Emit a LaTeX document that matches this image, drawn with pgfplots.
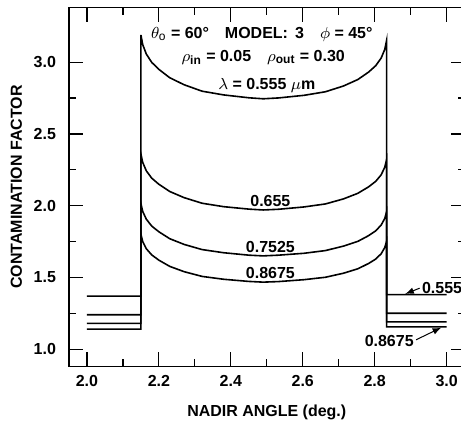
\documentclass[border=0pt]{standalone}
\usepackage{fontspec}
\setmainfont{Liberation Sans}
\usepackage{pgfplots}
\pgfplotsset{compat=1.18}

\pgfplotstableread{
x y
2.0 1.37
2.15 1.37
2.15 3.19
2.155 3.123
2.165 3.057
2.18 2.999
2.2 2.950
2.23 2.892
2.27 2.843
2.32 2.798
2.38 2.772
2.45 2.752
2.49 2.745
2.533 2.751
2.603 2.769
2.663 2.794
2.713 2.834
2.753 2.879
2.783 2.931
2.803 2.976
2.818 3.029
2.828 3.089
2.833 3.15
2.833 1.38
3.0 1.38
}\lamA

\pgfplotstableread{
x y
2.0 1.24
2.15 1.24
2.15 2.36
2.155 2.302
2.165 2.243
2.18 2.192
2.2 2.149
2.23 2.099
2.27 2.056
2.32 2.017
2.38 1.993
2.45 1.976
2.49 1.97
2.533 1.975
2.603 1.991
2.663 2.012
2.713 2.047
2.753 2.086
2.783 2.131
2.803 2.17
2.818 2.215
2.828 2.268
2.833 2.32
2.833 1.25
3.0 1.25
}\lamB

\pgfplotstableread{
x y
2.0 1.18
2.15 1.18
2.15 2.015
2.155 1.960
2.165 1.906
2.18 1.858
2.2 1.818
2.23 1.770
2.27 1.730
2.32 1.694
2.38 1.672
2.45 1.655
2.49 1.65
2.533 1.655
2.603 1.668
2.663 1.687
2.713 1.718
2.753 1.751
2.783 1.791
2.803 1.825
2.818 1.865
2.828 1.911
2.833 1.957
2.833 1.19
3.0 1.19
}\lamC

\pgfplotstableread{
x y
2.0 1.14
2.15 1.14
2.15 1.80
2.155 1.750
2.165 1.700
2.18 1.657
2.2 1.620
2.23 1.577
2.27 1.540
2.32 1.507
2.38 1.487
2.45 1.472
2.49 1.467
2.533 1.471
2.603 1.484
2.663 1.501
2.713 1.529
2.753 1.560
2.783 1.597
2.803 1.628
2.818 1.665
2.828 1.708
2.833 1.75
2.833 1.155
3.0 1.155
}\lamD

\begin{document}
\begin{tikzpicture}[font=\bfseries\fontsize{8}{10}\selectfont]
\begin{axis}[
    name=ax,
    scale only axis,
    width=198pt, height=179.5pt,
    xmin=1.95, xmax=3.05,
    ymin=0.88, ymax=3.38,
    xtick={2.0,2.2,2.4,2.6,2.8,3.0},
    ytick={1.0,1.5,2.0,2.5,3.0},
    minor x tick num=1,
    minor y tick num=1,
    tick align=inside,
    major tick length=7pt,
    minor tick length=3.5pt,
    tick style={line width=0.6pt, black},
    axis line style={line width=0.7pt},
    /pgf/number format/assume math mode=true,
    /pgf/number format/fixed,
    /pgf/number format/fixed zerofill,
    /pgf/number format/precision=1,
    tick label style={font=\bfseries\fontsize{8}{10}\selectfont},
    yticklabel style={xshift=-3pt},
    xticklabel style={yshift=-1pt},
    xlabel={NADIR ANGLE (deg.)},
    ylabel={CONTAMINATION FACTOR},
    xlabel style={font=\bfseries\fontsize{8}{10}\selectfont, yshift=-2pt},
    ylabel style={font=\bfseries\fontsize{8}{10}\selectfont, yshift=-1pt},
]
\addplot[black, line width=0.8pt] table {\lamA};
\addplot[black, line width=0.8pt] table {\lamB};
\addplot[black, line width=0.8pt] table {\lamC};
\addplot[black, line width=0.8pt] table {\lamD};

\node at (axis cs:2.486,3.19) {$\theta_{\mathrm{o}}$ = 60\textdegree\quad MODEL:\, 3\quad $\phi$ = 45\textdegree};
\node at (axis cs:2.49,3.035) {$\rho$\textsubscript{in} = 0.05\quad $\rho$\textsubscript{out} = 0.30};
\node at (axis cs:2.50,2.84) {$\lambda$ = 0.555 $\mu$m};
\node at (axis cs:2.51,2.03) {0.655};
\node at (axis cs:2.51,1.71) {0.7525};
\node at (axis cs:2.51,1.53) {0.8675};
\node[anchor=west, inner sep=1pt] at (axis cs:2.925,1.425) {0.555};
\draw[-latex, line width=0.5pt] (axis cs:2.925,1.425) -- (axis cs:2.885,1.385);
\node[anchor=east, inner sep=1pt] at (axis cs:2.915,1.06) {0.8675};
\draw[-latex, line width=0.5pt] (axis cs:2.915,1.065) -- (axis cs:2.985,1.15);
\coordinate (r) at (axis cs:3.04,0.88);
\end{axis}
\coordinate (sw) at (current bounding box.south west);
\coordinate (ne) at (current bounding box.north east);
\pgfresetboundingbox
\path[use as bounding box] ([shift={(-2pt,-2.5pt)}]sw) rectangle ([yshift=3.5pt]r |- ne);
\end{tikzpicture}
\end{document}
